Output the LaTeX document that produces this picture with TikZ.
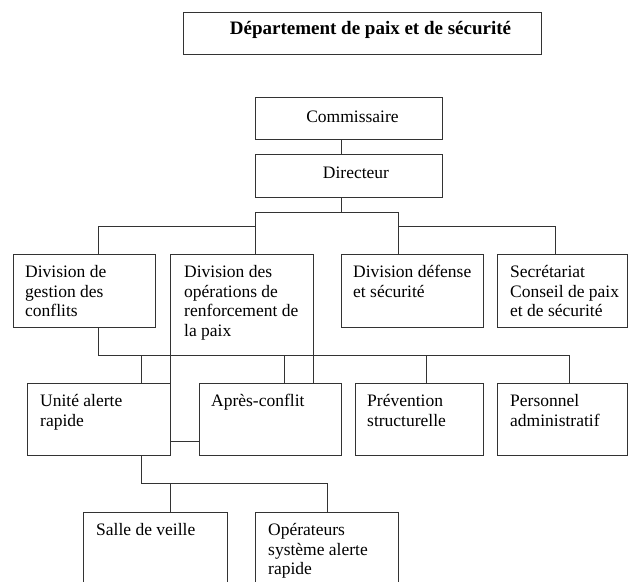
\documentclass[tikz,border=0pt]{standalone}
\usepackage{fontspec}
\setmainfont{Liberation Serif}
\definecolor{linec}{gray}{0.2}
\begin{document}
\begin{tikzpicture}[x=1pt,y=-1pt,
  frame/.style={draw=linec, line width=0.8pt, inner sep=0pt, outer sep=0pt, anchor=north west},
  hidden/.style={inner sep=0pt, outer sep=0pt, anchor=north west},
  conn/.style={draw=linec, line width=0.8pt},
  txt/.style={anchor=north west, inner sep=0pt, align=left, font=\fontsize{17.5}{19.8}\selectfont},
  ctxt/.style={anchor=base, inner sep=0pt, font=\fontsize{17.5}{19.8}\selectfont}]
\useasboundingbox (0,0) rectangle (629,581);
\clip (0,0) rectangle (629,581);
% boxes
\node[frame, minimum width=358pt, minimum height=42pt] (tbox) at (183,12) {};
\node[frame, minimum width=187pt, minimum height=42pt] (com) at (255,97) {};
\node[frame, minimum width=187pt, minimum height=43pt] (dir) at (255,154) {};
\node[frame, minimum width=142pt, minimum height=73pt] (dgc) at (13,254) {};
\node[hidden, minimum width=143pt, minimum height=129pt] (dor) at (170,254) {};
\node[frame, minimum width=142pt, minimum height=73pt] (dfs) at (341,254) {};
\node[frame, minimum width=130pt, minimum height=73pt] (sec) at (497,254) {};
\node[frame, minimum width=143pt, minimum height=72pt] (uar) at (27,383) {};
\node[frame, minimum width=142pt, minimum height=72pt] (apc) at (199,383) {};
\node[frame, minimum width=128pt, minimum height=72pt] (pst) at (355,383) {};
\node[frame, minimum width=130pt, minimum height=72pt] (pad) at (497,383) {};
\node[frame, minimum width=144pt, minimum height=90pt] (sdv) at (83,512) {};
\node[frame, minimum width=143pt, minimum height=90pt] (osa) at (255,512) {};
% texts
\node[anchor=base, inner sep=0pt, font=\bfseries\fontsize{19}{22}\selectfont] (ttl) at (370.5,34) {Département de paix et de sécurité};
\node[ctxt] (tcom) at (352.5,122) {Commissaire};
\node[ctxt] (tdir) at (356,178) {Directeur};
\node[txt] (tdgc) at ([xshift=12pt,yshift=-11pt]dgc.north west) {Division de\\gestion des\\conflits};
\node[txt] (tdor) at ([xshift=14pt,yshift=-11pt]dor.north west) {Division des\\opérations de\\renforcement de\\la paix};
\node[txt] (tdfs) at ([xshift=12pt,yshift=-11pt]dfs.north west) {Division défense\\et sécurité};
\node[txt] (tsec) at ([xshift=13pt,yshift=-11pt]sec.north west) {Secrétariat\\Conseil de paix\\et de sécurité};
\node[txt] (tuar) at ([xshift=13pt,yshift=-11pt]uar.north west) {Unité alerte\\rapide};
\node[txt] (tapc) at ([xshift=12pt,yshift=-11pt]apc.north west) {Après-conflit};
\node[txt] (tpst) at ([xshift=12pt,yshift=-11pt]pst.north west) {Prévention\\structurelle};
\node[txt] (tpad) at ([xshift=13pt,yshift=-11pt]pad.north west) {Personnel\\administratif};
\node[txt] (tsdv) at ([xshift=13pt,yshift=-11pt]sdv.north west) {Salle de veille};
\node[txt] (tosa) at ([xshift=13pt,yshift=-11pt]osa.north west) {Opérateurs\\système alerte\\rapide};
% junction coordinates
\coordinate (ja) at (255,212);
\coordinate (jb) at (398,212);
\coordinate (jc) at (98,226);
\coordinate (jd) at (555,226);
\coordinate (b1) at (98,355);
\coordinate (b2) at (569,355);
\coordinate (d1) at (141,355);
\coordinate (d2) at (284,355);
\coordinate (d3) at (426,355);
\coordinate (lk) at (170,441);
\coordinate (e0) at (141,483);
\coordinate (e1) at (170,483);
\coordinate (e2) at (327,483);
% connectors
\draw[conn] ([xshift=86pt]com.south west) -- ([xshift=86pt]dir.north west);
\draw[conn] ([xshift=86pt]dir.south west) -- ([xshift=86pt]dir.south west |- ja);
\draw[conn] (dor.north -| ja) -- (ja) -- (jb) -- (dfs.north -| jb);
\draw[conn] (dgc.north -| jc) -- (jc) -- (ja |- jc);
\draw[conn] (jb |- jd) -- (jd) -- (sec.north -| jd);
\draw[conn] (dor.south east) -- (dor.north east) -- (dor.north west) -- (lk) -- (apc.west |- lk);
\draw[conn] (dgc.south -| b1) -- (b1) -- (b2) -- (pad.north -| b2);
\draw[conn] (d1) -- (uar.north -| d1);
\draw[conn] (d2) -- (apc.north -| d2);
\draw[conn] (d3) -- (pst.north -| d3);
\draw[conn] (uar.south -| e0) -- (e0) -- (e2) -- (osa.north -| e2);
\draw[conn] (e1) -- (sdv.north -| e1);
\end{tikzpicture}
\end{document}
